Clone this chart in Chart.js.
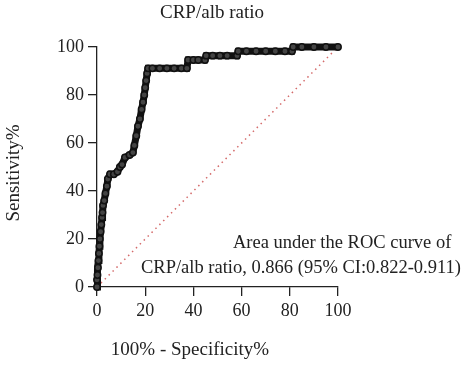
<!DOCTYPE html>
<html>
<head>
<meta charset="utf-8">
<script src="https://cdn.jsdelivr.net/npm/chart.js@4.4.1/dist/chart.umd.min.js"></script>
<style>
  body { margin: 0; background: #fff; }
  #wrap { width: 474px; height: 368px; }
</style>
</head>
<body>
<div id="wrap"><canvas id="myChart" width="474" height="368"></canvas></div>
<script>
// ROC curve (100% - specificity, sensitivity)
let fpr = [0, 0, 0.2, 0.4, 0.6, 0.8, 1.0, 1.2, 1.5, 1.8, 2.1, 2.3, 2.5, 3.0, 3.5, 4.1, 4.5, 5.4, 7, 8.5, 9.5, 10.4, 11.6, 13.5, 14.9, 15.5, 16.3, 17.0, 17.8, 18.5, 19.1, 19.6, 20.0, 20.4, 20.8, 21.2,
    23, 26, 29, 32, 35, 37.3,
    37.8, 40, 42, 44.8,
    45.3, 48, 51, 54, 58.1,
    58.6, 62, 66, 70, 74, 78, 80.9,
    81.4, 85, 90, 95, 100];
let sens = [0, 3, 5, 8, 11, 14, 17, 20, 23, 26, 29, 31, 34, 36, 39, 42, 45, 47, 47, 48, 50, 51, 54, 55, 56, 59, 63, 67, 70, 74, 77, 80, 83, 86, 89, 91.1,
    91.1, 91.1, 91.1, 91.1, 91.1, 91.1,
    94.6, 94.6, 94.6, 94.6,
    96.4, 96.4, 96.4, 96.4, 96.4,
    98.2, 98.2, 98.2, 98.2, 98.2, 98.2, 98.2,
    100, 100, 100, 100, 100];
let diagX = [0, 100];
let diagY = [0, 100];
let tickValues = [0, 20, 40, 60, 80, 100];

let titleText = "CRP/alb ratio";
let xTitle = "100% - Specificity%";
let yTitle = "Sensitivity%";
let note1 = "Area under the ROC curve of";
let note2 = "CRP/alb ratio, 0.866 (95% CI:0.822-0.911)";

let serif = "'Liberation Serif', 'DejaVu Serif', serif";

let rocPoints = fpr.map((x, i) => ({x: x, y: sens[i]}));
let diagPoints = diagX.map((x, i) => ({x: x, y: diagY[i]}));

// texts that sit outside the axes
let textPlugin = {
    id: "texts",
    afterDraw(chart){
        let c = chart.ctx;
        c.save();
        c.fillStyle = "#222";
        c.textBaseline = "middle";

        c.font = "19px " + serif;
        c.textAlign = "center";
        c.fillText(titleText, 212, 13);
        c.fillText(xTitle, 190, 350);

        c.font = "18.5px " + serif;
        c.textAlign = "left";
        c.fillText(note1, 233, 243);
        c.fillText(note2, 141, 268);

        c.font = "19px " + serif;
        c.translate(14, 173);
        c.rotate(-Math.PI / 2);
        c.textAlign = "center";
        c.fillText(yTitle, 0, 0);
        c.restore();
    }
};

let axisStyle = {
    type: "linear",
    min: 0,
    max: 100,
    grid: {display: true, drawOnChartArea: false, drawTicks: true, tickLength: 9, color: "#222", lineWidth: 1.3},
    border: {display: true, color: "#222", width: 1.3},
    ticks: {stepSize: 20, color: "#222", font: {family: serif, size: 18}, padding: 4}
};

let ctx = document.getElementById("myChart").getContext("2d");
let myChart = new Chart(ctx, {
    type: "line",
    data: {
        datasets: [
            {
                data: rocPoints,
                borderColor: "#111",
                borderWidth: 7,
                pointRadius: 3.2,
                pointBackgroundColor: "#444",
                pointBorderColor: "#111",
                pointBorderWidth: 1.5,
                tension: 0,
                clip: 8
            },
            {
                data: diagPoints,
                borderColor: "#d46a6a",
                borderWidth: 1.5,
                borderDash: [1.5, 4],
                pointRadius: 0,
                tension: 0
            }
        ]
    },
    options: {
        responsive: false,
        animation: false,
        layout: {padding: {left: 0, top: 47, right: 136, bottom: 0}},
        plugins: {legend: {display: false}, tooltip: {enabled: false}},
        scales: {
            x: Object.assign({}, axisStyle, {
                afterBuildTicks(scale){ scale.ticks = tickValues.map(v => ({value: v})); },
                afterFit(scale){ scale.height = 81; }
            }),
            y: Object.assign({}, axisStyle, {
                afterBuildTicks(scale){ scale.ticks = tickValues.map(v => ({value: v})); },
                afterFit(scale){ scale.width = 97; }
            })
        }
    },
    plugins: [textPlugin]
});
</script>
</body>
</html>
